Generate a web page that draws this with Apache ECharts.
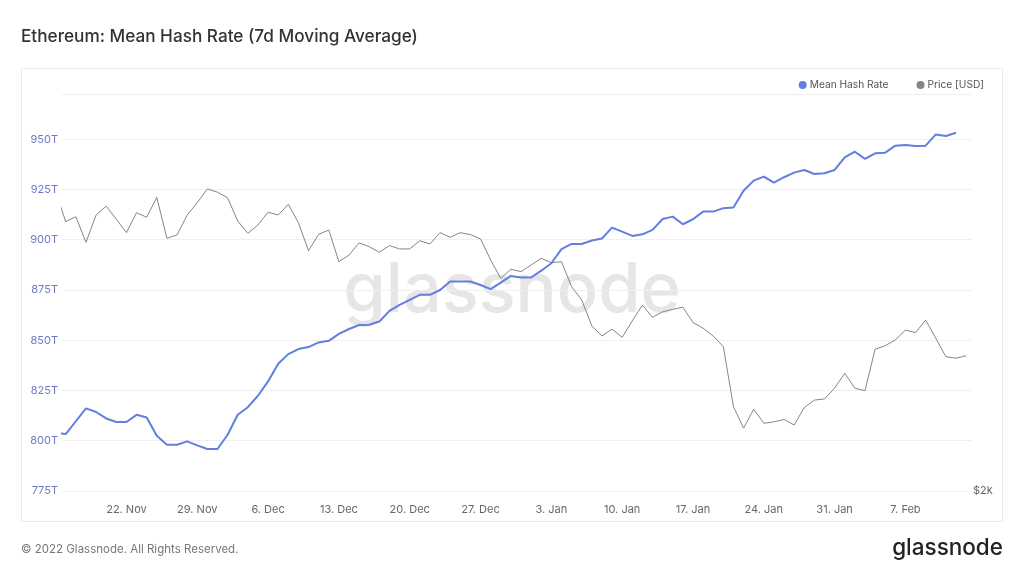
<!DOCTYPE html>
<html>
<head>
<meta charset="utf-8">
<script src="https://cdn.jsdelivr.net/npm/echarts@6/dist/echarts.min.js"></script>
<style>
  html, body { margin: 0; padding: 0; background: #ffffff; }
  #chart { width: 1024px; height: 576px; }
</style>
</head>
<body>
<div id="chart"></div>
<script>
// ---- Data ----
// Daily points, first date 2021-11-15 (day index 0)
const startDate = [2021, 10, 15]; // year, month index, day (UTC)

// Mean Hash Rate, 7d MA, in T (H/s), 15 Nov 2021 .. 12 Feb 2022
const hashRate = [
  804.0, 803.3, 809.7, 816.1, 814.3, 811.1, 809.3, 809.3, 812.9, 811.6, 802.5, 798.0, 798.0, 799.7, 797.7, 795.9,
  795.9, 803.0, 812.9, 816.7, 822.4, 829.5, 838.3, 843.1, 845.6, 846.6, 848.9, 849.7, 853.2, 855.6, 857.6, 857.7,
  859.3, 864.6, 867.6, 870.1, 872.6, 872.6, 875.0, 879.2, 879.2, 879.2, 877.5, 875.4, 878.7, 882.0, 881.2,
  881.2, 884.6, 888.3, 895.3, 897.9, 897.9, 899.6, 900.6, 906.0, 904.0, 901.9, 902.7, 904.9, 910.3, 911.5, 907.7,
  910.2, 914.0, 914.0, 915.7, 916.0, 924.4, 929.4, 931.4, 928.4, 931.1, 933.4, 934.7, 932.7, 933.1, 934.7,
  941.0, 943.8, 940.2, 943.0, 943.3, 946.8, 947.1, 946.6, 946.8, 952.4, 951.6, 953.2
];

// Price [USD], 15 Nov 2021 .. 13 Feb 2022
const priceUsd = [
  4580, 4214, 4272, 3980, 4292, 4400, 4242, 4088, 4320, 4266, 4508, 4024, 4062, 4292, 4442, 4614,
  4572, 4502, 4222, 4080, 4176, 4326, 4292, 4422, 4202, 3888, 4070, 4118, 3772, 3842, 3974, 3932,
  3872, 3944, 3908, 3908, 3998, 3962, 4088, 4036, 4088, 4066, 4018, 3790, 3602, 3694, 3670,
  3738, 3808, 3762, 3772, 3520, 3394, 3158, 3072, 3130, 3060, 3202, 3346, 3234, 3284, 3306, 3326,
  3188, 3138, 3072, 2982, 2526, 2380, 2508, 2412, 2422, 2438, 2400, 2520, 2572, 2580, 2658,
  2770, 2658, 2640, 2960, 2990, 3038, 3122, 3100, 3210, 3052, 2900, 2888, 2908
];

// X tick labels (Mondays), as day index from start date
const xTickDays = [7, 14, 21, 28, 35, 42, 49, 56, 63, 70, 77, 84];
const xTickLabels = ['22. Nov', '29. Nov', '6. Dec', '13. Dec', '20. Dec', '27. Dec',
  '3. Jan', '10. Jan', '17. Jan', '24. Jan', '31. Jan', '7. Feb'];
const xMinDay = 0.63, xMaxDay = 90.58; // visible window (fractions of a day)

// Y axis (hash) ticks
const hashMin = 775, hashMax = 972.5, hashStep = 25;
const priceMin = 2000, priceMax = 6000;

const titleText = 'Ethereum: Mean Hash Rate (7d Moving Average)';
const seriesNames = ['Mean Hash Rate', 'Price [USD]'];
const footerText = '\u00A9 2022 Glassnode. All Rights Reserved.';
const brandText = 'glassnode';

// ---- Build ----
const hashData = hashRate.map((v, i) => [i, v]);
const priceData = priceUsd.map((v, i) => [i, v]);

const blue = '#617ee0';
const gray = '#858585';
const FONT = 'Inter, "Noto Sans", sans-serif';

const chart = echarts.init(document.getElementById('chart'), null, { renderer: 'canvas' });
chart.setOption({
  animation: false,
  backgroundColor: '#ffffff',
  textStyle: { fontFamily: FONT },
  title: {
    text: titleText,
    left: 16, top: 23,
    textStyle: { fontSize: 17.2, fontWeight: 500, color: '#333333', fontFamily: FONT }
  },
  legend: {
    right: 35, top: 75,
    icon: 'circle', itemWidth: 8, itemHeight: 8, itemGap: 28,
    textStyle: { fontSize: 10.2, color: '#555555', fontFamily: FONT, padding: [0, 0, 0, -2] },
    data: seriesNames
  },
  graphic: [
    { type: 'rect', z: -20, silent: true,
      shape: { x: 21.5, y: 68.5, width: 981, height: 453 },
      style: { fill: 'none', stroke: '#ebebeb', lineWidth: 1 } },
    { type: 'text', z: -10, silent: true, left: 'center', top: 257,
      style: { text: brandText, font: '500 68.5px Inter, sans-serif', fill: '#e6e6e6' } },
    { type: 'text', silent: true, left: 21, top: 544,
      style: { text: footerText, font: '11.5px Inter, sans-serif', fill: '#777777' } },
    { type: 'text', silent: true, right: 21, top: 537,
      style: { text: brandText, font: '500 22.5px Inter, sans-serif', fill: '#222222' } }
  ],
  grid: { left: 62, right: 52, top: 94, bottom: 85 },
  xAxis: {
    type: 'value',
    min: xMinDay, max: xMaxDay,
    axisLine: { show: false },
    axisTick: { show: false },
    splitLine: { show: false },
    axisLabel: {
      customValues: xTickDays,
      margin: 13,
      fontSize: 11, color: '#666666', fontFamily: FONT,
      formatter: v => { const k = xTickDays.indexOf(Math.round(v)); return k >= 0 ? xTickLabels[k] : ''; }
    }
  },
  yAxis: [
    {
      type: 'value', position: 'left',
      min: hashMin, max: hashMax, interval: hashStep,
      axisLine: { show: false }, axisTick: { show: false },
      splitLine: { lineStyle: { color: '#efefef', width: 1 } },
      axisLabel: {
        showMaxLabel: false, margin: 4,
        fontSize: 11, color: '#6f78c9', fontFamily: FONT,
        formatter: v => Math.round(v) + 'T'
      }
    },
    {
      type: 'log', position: 'right', logBase: 10,
      min: priceMin, max: priceMax,
      axisLine: { show: false }, axisTick: { show: false },
      splitLine: { show: false },
      axisLabel: {
        margin: 1, fontSize: 11, color: '#666666', fontFamily: FONT,
        showMaxLabel: false,
        formatter: v => Math.abs(v - priceMin) < 1 ? '$' + (priceMin / 1000) + 'k' : ''
      }
    }
  ],
  series: [
    {
      name: seriesNames[0], type: 'line', yAxisIndex: 0,
      data: hashData, showSymbol: false, z: 3,
      itemStyle: { color: blue },
      lineStyle: { color: blue, width: 2 }
    },
    {
      name: seriesNames[1], type: 'line', yAxisIndex: 1,
      data: priceData, showSymbol: false, z: 2,
      itemStyle: { color: gray },
      lineStyle: { color: gray, width: 1 }
    }
  ]
});
</script>
</body>
</html>
